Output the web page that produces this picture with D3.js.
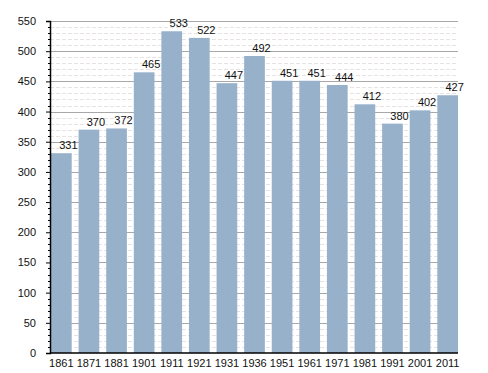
<!DOCTYPE html>
<html>
<head>
<meta charset="utf-8">
<script src="https://cdn.jsdelivr.net/npm/d3@7"></script>
<style>
  body { margin: 0; background: #fff; }
  text { font-family: "Liberation Sans", Arial, sans-serif; }
</style>
</head>
<body>
<svg width="488" height="373"></svg>
<script>
var years = ['1861', '1871', '1881', '1901', '1911', '1921', '1931', '1936', '1951', '1961', '1971', '1981', '1991', '2001', '2011'];
var population = [331, 370, 372, 465, 533, 522, 447, 492, 451, 451, 444, 412, 380, 402, 427];
var yTicks = [0, 50, 100, 150, 200, 250, 300, 350, 400, 450, 500, 550];

var svg = d3.select('svg');

var plot = {l: 50, r: 458, t: 21, b: 353};

var x = d3.scaleBand()
	.domain(years)
	.range([plot.l + 1, plot.r])
	.paddingInner(0.25)
	.paddingOuter(0);

var y = d3.scaleLinear()
	.domain([0, 550])
	.range([plot.b, plot.t]);

// minor grid every 10
var minor = d3.range(10, 551, 10).filter(function(d) { return d % 50 != 0; });

svg.append('g').selectAll('line')
	.data(minor)
	.enter()
	.append('line')
	.attr('x1', plot.l)
	.attr('x2', plot.r)
	.attr('y1', function(d) { return Math.round(y(d)) + 0.5; })
	.attr('y2', function(d) { return Math.round(y(d)) + 0.5; })
	.attr('stroke', '#e8e3e3')
	.attr('stroke-dasharray', '4,2');

svg.append('g').selectAll('line')
	.data(yTicks.slice(1))
	.enter()
	.append('line')
	.attr('x1', plot.l)
	.attr('x2', plot.r)
	.attr('y1', function(d) { return Math.round(y(d)) + 0.5; })
	.attr('y2', function(d) { return Math.round(y(d)) + 0.5; })
	.attr('stroke', '#a8a8a8');

// bars
svg.append('g').selectAll('rect')
	.data(population)
	.enter()
	.append('rect')
	.attr('x', function(d, i) { return x(years[i]); })
	.attr('width', x.bandwidth())
	.attr('y', function(d) { return y(d); })
	.attr('height', function(d) { return plot.b - y(d); })
	.attr('fill', '#98b1cb');

// value labels
svg.append('g').selectAll('text')
	.data(population)
	.enter()
	.append('text')
	.attr('x', function(d, i) { return x(years[i]) + x.bandwidth() / 2 + 7; })
	.attr('y', function(d) { return y(d) - 4; })
	.attr('text-anchor', 'middle')
	.attr('font-size', 11)
	.attr('fill', '#111')
	.text(function(d) { return d; });

// y axis
var yAxis = svg.append('g')
	.attr('transform', 'translate(' + plot.l + ',0)')
	.call(d3.axisLeft(y).tickValues(yTicks).tickSize(4).tickPadding(10));
yAxis.select('.domain').attr('stroke', '#000').attr('stroke-width', 1.5);
yAxis.selectAll('text').attr('font-size', 11).attr('fill', '#111').style('font-family', '"Liberation Sans", Arial, sans-serif');

svg.append('g').selectAll('line')
	.data(minor)
	.enter()
	.append('line')
	.attr('x1', plot.l - 2)
	.attr('x2', plot.l)
	.attr('y1', function(d) { return Math.round(y(d)) + 0.5; })
	.attr('y2', function(d) { return Math.round(y(d)) + 0.5; })
	.attr('stroke', '#000');

// x axis
var xAxis = svg.append('g')
	.attr('transform', 'translate(0,' + plot.b + ')')
	.call(d3.axisBottom(x).tickSize(0).tickPadding(6));
xAxis.select('.domain').attr('d', 'M' + plot.l + ',0H' + plot.r).attr('stroke', '#000').attr('stroke-width', 1.5);
xAxis.selectAll('text').attr('font-size', 11).attr('fill', '#111').style('font-family', '"Liberation Sans", Arial, sans-serif');
</script>
</body>
</html>
